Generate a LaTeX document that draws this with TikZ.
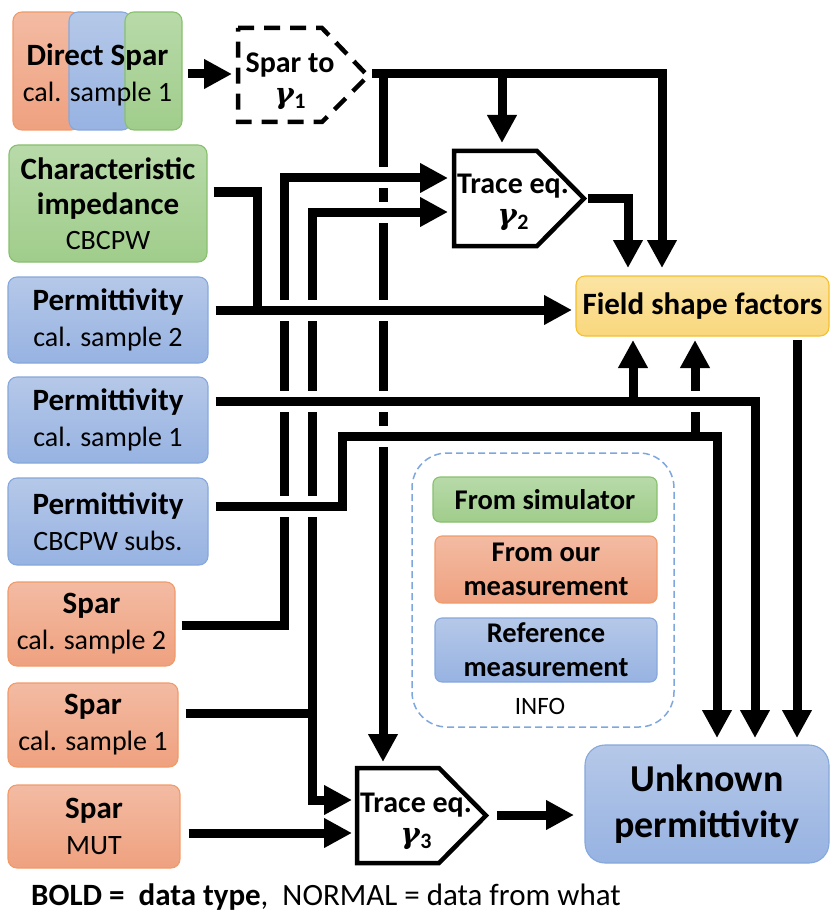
\documentclass[tikz,border=0pt]{standalone}
\usepackage{fontspec}
\setmainfont{Carlito}
\newfontfamily\gfont{DejaVu Serif}
\usetikzlibrary{arrows.meta}
\definecolor{oT}{HTML}{F3BBA3}
\definecolor{oD}{HTML}{EFA17F}
\definecolor{oB}{HTML}{F19A6A}
\definecolor{bT}{HTML}{B5C8E8}
\definecolor{bD}{HTML}{97B3E2}
\definecolor{bB}{HTML}{86A8DC}
\definecolor{gT}{HTML}{B8DAA9}
\definecolor{gD}{HTML}{A0CD8B}
\definecolor{gB}{HTML}{88C06E}
\definecolor{yT}{HTML}{FBE4A4}
\definecolor{yD}{HTML}{F9D77C}
\definecolor{yB}{HTML}{F5C02C}
\definecolor{dB}{HTML}{7FA7DF}
\newcommand\subt[1]{{\fontsize{28}{36}\selectfont #1}}
\newcommand\gam[1]{{\fontsize{29}{31}\gfont\bfseries\itshape γ}\kern0.5pt\raisebox{-5pt}{\fontsize{22}{31}\selectfont\bfseries #1}}
\begin{document}
\begin{tikzpicture}[x=1pt,y=-1pt,
  bx/.style={rectangle, rounded corners=9pt, line width=1.1pt, inner sep=0pt, align=center, font=\fontsize{31}{36}\selectfont},
  ob/.style={bx, draw=oB, top color=oT, bottom color=oD},
  bb/.style={bx, draw=bB, top color=bT, bottom color=bD},
  gb/.style={bx, draw=gB, top color=gT, bottom color=gD},
  yb/.style={bx, draw=yB, top color=yT, bottom color=yD},
  txt/.style={inner sep=0pt, align=center, font=\fontsize{31}{36}\selectfont},
  ptxt/.style={inner sep=0pt, align=center, font=\fontsize{30}{31}\selectfont\bfseries},
  itxt/.style={font=\fontsize{28.5}{34}\selectfont\bfseries},
  wire/.style={line width=9pt, line join=miter},
  arr/.style={wire, -{Triangle[length=28pt,width=28pt]}},
  pent/.style={line width=4.5pt, line join=miter, fill=white},
]
\useasboundingbox (0,0) rectangle (830,912);

% ---------- left boxes ----------
\node[ob, minimum width=67pt, minimum height=118pt] (dso) at (46.5,71) {};
\node[bb, minimum width=62pt, minimum height=118pt] (dsb) at (100,71) {};
\node[gb, minimum width=57pt, minimum height=118pt] (dsg) at (153.5,71) {};
\node[txt] (ds) at (97.5,75) {\textbf{Direct Spar}\\\subt{cal. sample 1}};

\node[gb, minimum width=198pt, minimum height=117pt] (ci) at (108,203.5) {\textbf{Characteristic}\\[-1pt]\textbf{impedance}\\[-1pt]\subt{CBCPW}};
\node[bb, minimum width=200pt, minimum height=86pt] (p2) at (108,320) {\textbf{Permittivity}\\\subt{cal. sample 2}};
\node[bb, minimum width=200pt, minimum height=86pt] (p1) at (108,420) {\textbf{Permittivity}\\\subt{cal. sample 1}};
\node[bb, minimum width=200pt, minimum height=87pt] (pc) at (108,521.5) {\textbf{Permittivity}\\\subt{CBCPW subs.}};
\node[ob, minimum width=167pt, minimum height=84pt] (s2) at (91.5,624) {\textbf{Spar}\\\subt{cal. sample 2}};
\node[ob, minimum width=170pt, minimum height=84pt] (s1) at (93,725) {\textbf{Spar}\\\subt{cal. sample 1}};
\node[ob, minimum width=172pt, minimum height=83pt] (sm) at (94,826.5) {\textbf{Spar}\\\subt{MUT}};

% ---------- right boxes ----------
\node[yb, minimum width=253pt, minimum height=60pt] (fsf) at (702.5,306) {\textbf{Field shape factors}};
\node[bb, rounded corners=20pt, minimum width=244pt, minimum height=118pt, font=\fontsize{38}{46}\selectfont\bfseries] (unk) at (707,804) {Unknown\\permittivity};

% ---------- info ----------
\node[draw=dB, dash pattern=on 7pt off 4pt, line width=1.5pt, rounded corners=35pt, minimum width=262pt, minimum height=274pt] (info) at (543,590) {};
\node[gb, itxt, rounded corners=7pt, minimum width=224pt, minimum height=45pt] (sim) at (545,499.5) {From simulator};
\node[ob, itxt, rounded corners=7pt, minimum width=222pt, minimum height=67pt] (our) at (546,569.5) {From our\\measurement};
\node[bb, itxt, rounded corners=7pt, minimum width=222pt, minimum height=64pt] (ref) at (546,650) {Reference\\measurement};
\node[inner sep=0pt, font=\fontsize{25}{28}\selectfont] (infot) at (540,706) {INFO};

% ---------- process shapes ----------
\draw[pent, dash pattern=on 16pt off 10pt] (238,28) -- (322,28) -- (368,76) -- (322,122) -- (238,122) -- cycle;
\node[ptxt] (g1) at (290,81) {Spar to\\\gam{1}};
\draw[pent] (454,151) -- (537,151) -- (584,198.5) -- (537,246) -- (454,246) -- cycle;
\node[ptxt] (g2) at (513,202) {Trace eq.\\\gam{2}};
\draw[pent] (357,768) -- (439,768) -- (486,815.5) -- (439,863) -- (357,863) -- cycle;
\node[ptxt] (g3) at (416,821) {Trace eq.\\\gam{3}};

% ---------- coordinates ----------
\coordinate (g1in) at (232,74);
\coordinate (g1out) at (372,74);
\coordinate (g2top) at (502,143);
\coordinate (g2inA) at (448,178);
\coordinate (g2inB) at (448,212);
\coordinate (g2out) at (588,198);
\coordinate (g3top) at (383,762);
\coordinate (g3inA) at (352,800);
\coordinate (g3inB) at (352,833);
\coordinate (g3out) at (497,815);
\coordinate (fsfA) at (628,268);
\coordinate (fsfB) at (662,268);
\coordinate (fsfL) at (572,310);
\coordinate (fsfC) at (633,340);
\coordinate (fsfD) at (695,340);
\coordinate (fsfE) at (797,340);
\coordinate (unkin) at (574,815);

% ---------- wires ----------
\draw[arr] (dsg.east) ++(5,3) -- (g1in);
\draw[arr] (g1out) -- (662,74) -- (fsfB);
\draw[arr] (502,74) -- (g2top);
\draw[arr] (383,74) -- (g3top);
\draw[arr] (g2out) -- (628,198) -- (fsfA);
\draw[arr] (s2.east) ++(6,1) -- (284,625) -- (284,178) -- (g2inA);
\draw[arr] (312,713) -- (312,212) -- (g2inB);
\draw[arr] (s1.east) ++(7,-12) -- (312,713) -- (312,800) -- (g3inA);
\draw[arr] (sm.east) ++(8,6.5) -- (g3inB);
\draw[arr] (g3out) -- (unkin);
\draw[wire] (ci.east) ++(6,-11.5) -- (257,192) -- (257,310);
\draw[arr] (p2.east) ++(7,-10) -- (fsfL);
\draw[arr] (pc.east) ++(7,-15.5) -- (342,506) -- (342,436) -- (717,436) -- (717,738);
\draw[arr] (695,436) -- (fsfD);
\draw[arr] (p1.east) ++(7,-19) -- (755,401) -- (755,738);
\draw[arr] (633,401) -- (fsfC);
\draw[arr] (fsfE) -- (797,738);

% ---------- crossing gaps ----------
\foreach \x/\y in {383/178, 383/212, 383/310, 383/401, 383/436,
                   284/310, 284/401, 284/506, 312/310, 312/401, 312/506, 695/401}{
  \fill[white] (\x-6,\y-10.5) rectangle (\x+6,\y+10.5);
  \draw[wire] (\x-7,\y) -- (\x+7,\y);
}

% ---------- caption ----------
\node[anchor=west, inner sep=0pt, font=\fontsize{31}{34}\selectfont] (cap) at (31,897) {\textbf{BOLD =~ data type},~ NORMAL = data from what};
\end{tikzpicture}
\end{document}
